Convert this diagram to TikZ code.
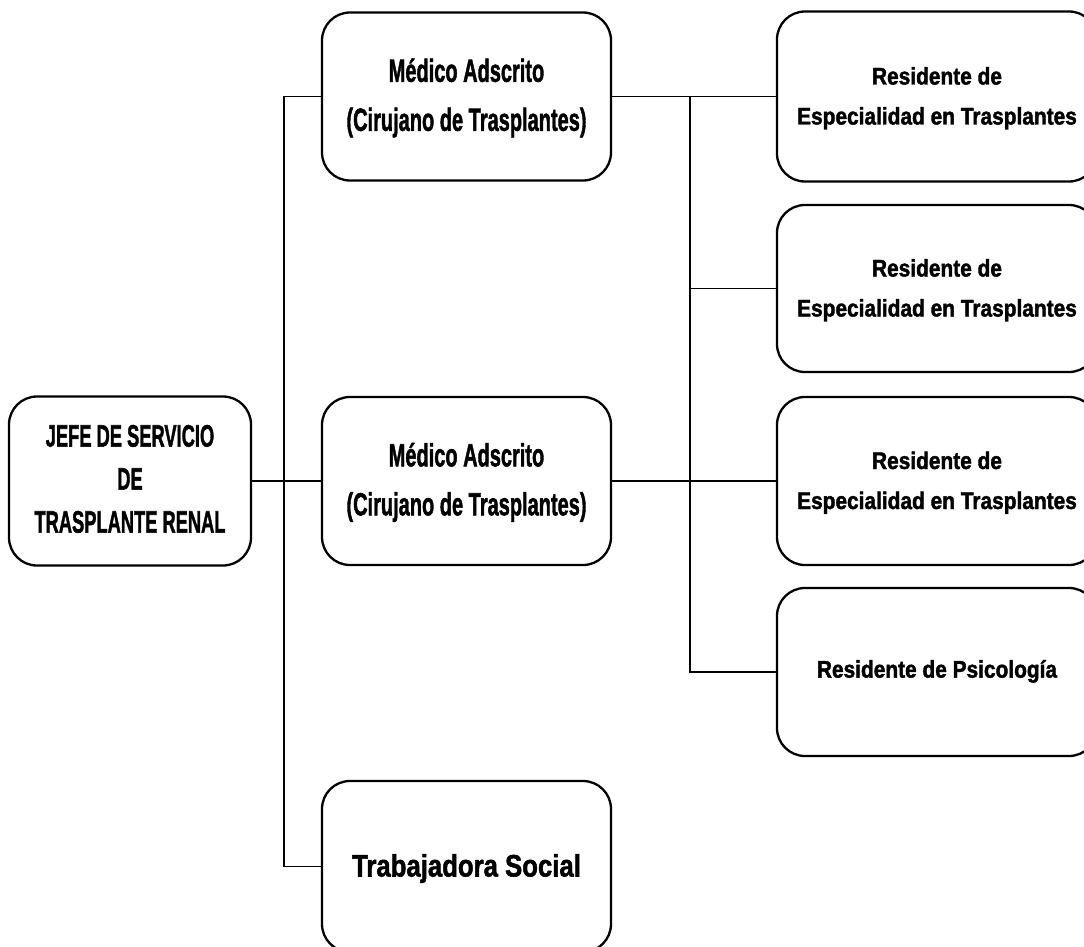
\documentclass[tikz,border=0pt]{standalone}
\usepackage{graphicx}
\usepackage{fontspec}
\setmainfont{Liberation Sans}
\newfontfamily\heavyfont[FakeBold=1.8]{Liberation Sans}
\newcommand\squeeze[2]{\scalebox{#1}[1]{\begin{tabular}{@{}c@{}}#2\end{tabular}}}

\begin{document}
\begin{tikzpicture}[x=1pt, y=-1pt,
  cargo/.style={draw, line width=2.3pt, rounded corners=28pt, inner sep=0pt, align=center},
  liga/.style={line width=1.5pt}]
\def\trunkleft{284}
\def\trunkright{690}
\useasboundingbox (0,0) rectangle (1084,947);

% LEFT COLUMN
\node [cargo, minimum width=242pt, minimum height=169pt,
  font=\heavyfont\bfseries\fontsize{31}{43}\selectfont] (jefe) at (130, 481)
  {\squeeze{0.59}{JEFE DE SERVICIO\\DE\\TRASPLANTE RENAL}};

% MIDDLE COLUMN
\node [cargo, minimum width=289pt, minimum height=168pt,
  font=\heavyfont\bfseries\fontsize{32}{49}\selectfont] (medA) at (466.5, 96.5)
  {\squeeze{0.625}{Médico Adscrito\\(Cirujano de Trasplantes)}};
\node [cargo, minimum width=289pt, minimum height=168pt,
  font=\heavyfont\bfseries\fontsize{32}{49}\selectfont] (medB) at (466.5, 481)
  {\squeeze{0.625}{Médico Adscrito\\(Cirujano de Trasplantes)}};
\node [cargo, minimum width=289pt, minimum height=171pt,
  font=\heavyfont\bfseries\fontsize{31}{50}\selectfont] (social) at (466.5, 866.5)
  {\squeeze{0.83}{Trabajadora Social}};

% RIGHT COLUMN
\node [cargo, minimum width=320pt, minimum height=170pt,
  font=\heavyfont\bfseries\fontsize{24}{40}\selectfont] (resA) at (937, 96.5)
  {\squeeze{0.87}{Residente de\\Especialidad en Trasplantes}};
\node [cargo, minimum width=320pt, minimum height=167pt,
  font=\heavyfont\bfseries\fontsize{24}{40}\selectfont] (resB) at (937, 288.5)
  {\squeeze{0.87}{Residente de\\Especialidad en Trasplantes}};
\node [cargo, minimum width=320pt, minimum height=168pt,
  font=\heavyfont\bfseries\fontsize{24}{40}\selectfont] (resC) at (937, 481)
  {\squeeze{0.87}{Residente de\\Especialidad en Trasplantes}};
\node [cargo, minimum width=320pt, minimum height=168pt,
  font=\heavyfont\bfseries\fontsize{24}{28}\selectfont] (psico) at (937, 672)
  {\squeeze{0.87}{Residente de Psicología}};

% CONNECTORS
\coordinate (tl) at (\trunkleft, 0);
\coordinate (tr) at (\trunkright, 0);
\draw [liga] (medA.west) -- (medA.west -| tl) -- (social.west -| tl) -- (social.west);
\draw [liga] (jefe) -- (medB);
\draw [liga] (medA) -- (resA);
\draw [liga] (medB) -- (resC);
\draw [liga] (medA.east -| tr) -- (psico.west -| tr) -- (psico.west);
\draw [liga] (resB.west -| tr) -- (resB.west);
\end{tikzpicture}
\end{document}
